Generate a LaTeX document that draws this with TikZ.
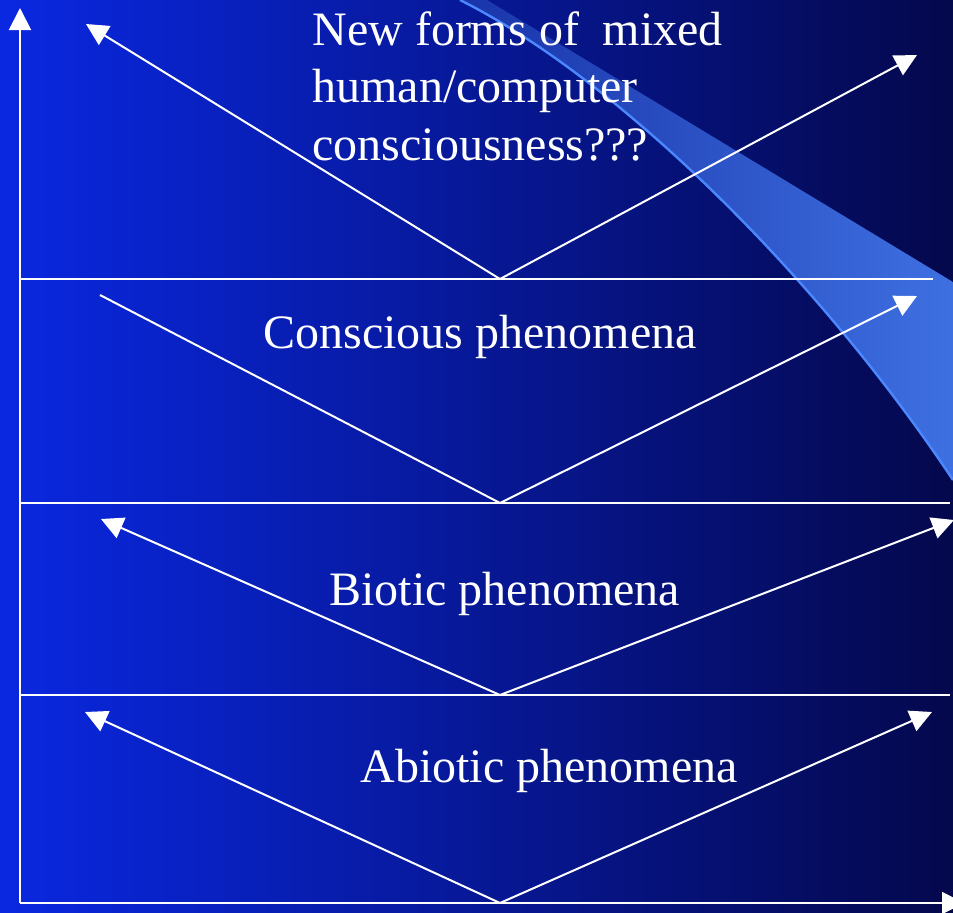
\documentclass[tikz,border=0pt]{standalone}
\usepackage{fontspec}
\setmainfont{Liberation Serif}
\usetikzlibrary{arrows.meta}
\definecolor{bgL}{RGB}{10,40,225}
\definecolor{bgR}{RGB}{4,8,76}
\definecolor{swL}{RGB}{25,52,170}
\definecolor{swR}{RGB}{62,112,225}
\definecolor{swEdge}{RGB}{75,135,255}
\begin{document}
\begin{tikzpicture}[x=0.5pt,y=-0.5pt,
  axis/.style={white, line width=1pt, -{Triangle[length=11pt,width=11pt]}},
  sep/.style={white, line width=1pt},
  arm/.style={white, line width=1pt, -{Triangle[length=11pt,width=11pt]}},
  plain arm/.style={white, line width=1pt},
  lbl/.style={text=white, font=\fontsize{24}{28.5}\selectfont, anchor=base west, inner sep=0pt}]
\useasboundingbox (0,0) rectangle (953,912);
\clip (0,0) rectangle (953,912);
% background
\shade[left color=bgL, right color=bgR] (0,0) rectangle (953,912);
% swoosh
\shade[left color=swL, right color=swR]
  (460,0) -- (487,0) -- (953,282) -- (953,480)
  .. controls (820,280) and (620,80) .. (460,0) -- cycle;
\draw[swEdge, line width=1.2pt] (460,0) .. controls (620,80) and (820,280) .. (953,480);
% axes
\coordinate (o) at (20,903);
\coordinate (ytop) at (20,8);
\coordinate (xend) at (964,903);
\draw[axis] (o) -- (ytop);
\draw[axis] (o) -- (xend);
% separators
\coordinate (s1l) at (20,279); \coordinate (s1r) at (933,279);
\coordinate (s2l) at (20,503); \coordinate (s2r) at (950,503);
\coordinate (s3l) at (20,695); \coordinate (s3r) at (950,695);
\draw[sep] (s1l) -- (s1r);
\draw[sep] (s2l) -- (s2r);
\draw[sep] (s3l) -- (s3r);
% V shapes
\coordinate (v1) at (500,279); \coordinate (a1l) at (86,24); \coordinate (a1r) at (917,55);
\coordinate (v2) at (500,503); \coordinate (a2l) at (100,295); \coordinate (a2r) at (917,296);
\coordinate (v3) at (500,695); \coordinate (a3l) at (101,519); \coordinate (a3r) at (954,520);
\coordinate (v4) at (500,903); \coordinate (a4l) at (85,712); \coordinate (a4r) at (932,712);
\draw[arm] (v1) -- (a1l);
\draw[arm] (v1) -- (a1r);
\draw[plain arm] (v2) -- (a2l);
\draw[arm] (v2) -- (a2r);
\draw[arm] (v3) -- (a3l);
\draw[arm] (v3) -- (a3r);
\draw[arm] (v4) -- (a4l);
\draw[arm] (v4) -- (a4r);
% labels
\node[lbl] (t1) at (312,45) {New forms of\ \ mixed};
\node[lbl] (t2) at (312,102) {human/computer};
\node[lbl] (t3) at (312,160) {consciousness???};
\node[lbl] (t4) at (263,348) {Conscious phenomena};
\node[lbl] (t5) at (329,605) {Biotic phenomena};
\node[lbl] (t6) at (360,782) {Abiotic phenomena};
\end{tikzpicture}
\end{document}
